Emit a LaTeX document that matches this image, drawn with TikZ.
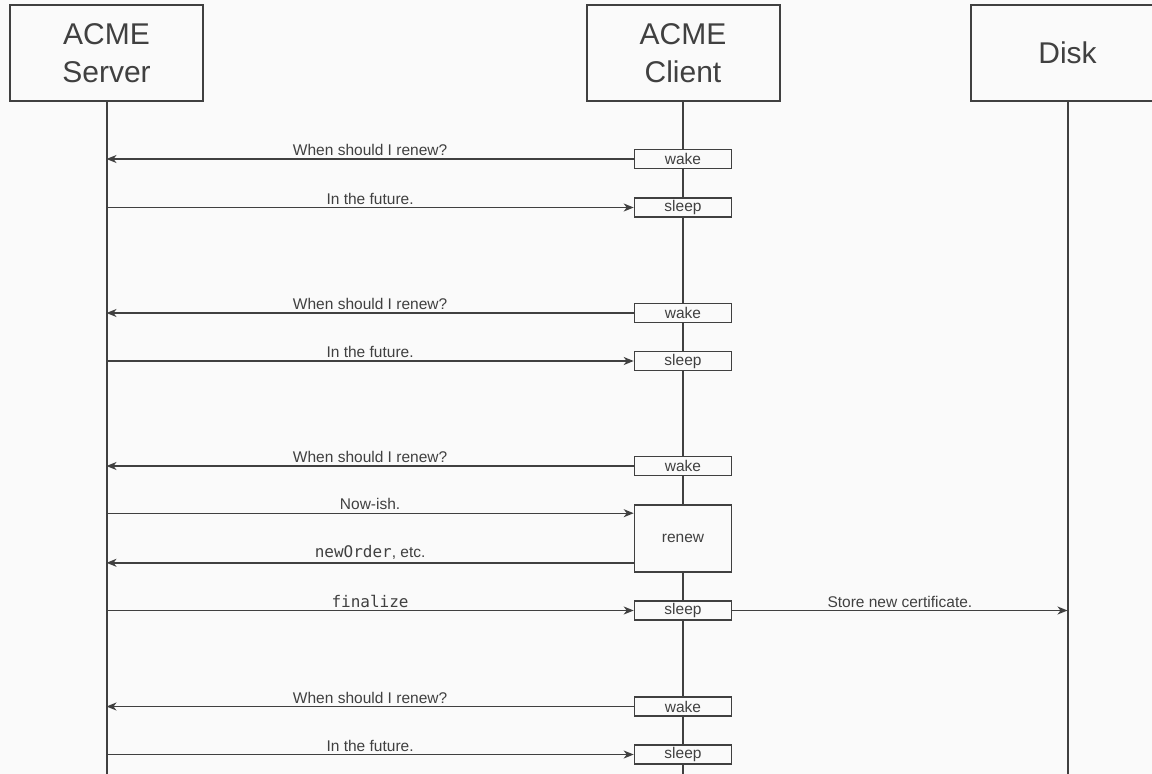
\documentclass[tikz,border=0pt]{standalone}
\usepackage{fontspec}
\setmainfont{Liberation Sans}
\newfontfamily\monofnt{DejaVu Sans Mono}
\usetikzlibrary{arrows.meta,calc}
\definecolor{bgc}{RGB}{250,250,250}
\definecolor{ink}{RGB}{64,64,64}
\newcommand{\mymono}[1]{{\monofnt\fontsize{16}{16}\selectfont #1}}
\tikzset{
  head/.style={draw=ink,line width=2pt,fill=bgc,minimum width=193pt,minimum height=96pt,inner sep=0pt,align=center,font=\fontsize{30}{38}\selectfont,text=ink},
  life/.style={draw=ink,line width=2pt},
  act/.style={draw=ink,line width=1.6pt,fill=bgc,minimum width=97pt,minimum height=19pt,inner sep=0pt,font=\fontsize{15.5}{15.5}\selectfont,text=ink},
  msg/.style={draw=ink,line width=1.4pt,-{Stealth[length=10pt,width=8pt,inset=3pt]}},
  lbl/.style={above,inner sep=2.5pt,font=\fontsize{15.5}{16}\selectfont,text=ink}
}
\begin{document}
\begin{tikzpicture}[x=1pt,y=-1pt]
\fill[bgc] (0,0) rectangle (1152,774);
\useasboundingbox (0,0) rectangle (1152,774);
\clip (0,0) rectangle (1152,774);
% heads
\node[head] (srv) at (106.5,53) {ACME\\Server};
\node[head] (cli) at (683,53) {ACME\\Client};
\node[head] (dsk) at (1067.5,53) {Disk};
\coordinate (srvend) at (106.5,774);
\coordinate (cliend) at (683,774);
\coordinate (dskend) at (1067.5,774);
\draw[life] (srv.south) -- (srvend);
\draw[life] (cli.south) -- (cliend);
\draw[life] (dsk.south) -- (dskend);
% activations
\node[act] (w1) at (683,159) {wake};
\node[act] (s1) at (683,207.5) {sleep};
\node[act] (w2) at (683,313) {wake};
\node[act] (s2) at (683,361) {sleep};
\node[act] (w3) at (683,466) {wake};
\node[act,minimum height=67pt] (rn) at (683,538.5) {renew};
\node[act] (s3) at (683,610.5) {sleep};
\node[act] (w4) at (683,706.5) {wake};
\node[act] (s4) at (683,754.5) {sleep};
% messages
\foreach \w/\s in {w1/s1,w2/s2,w4/s4}{
  \draw[msg] (\w.west) -- node[lbl]{When should I renew?} (\w.west -| srv);
  \draw[msg] (\s.west -| srv) -- node[lbl]{In the future.} (\s.west);
}
\draw[msg] (w3.west) -- node[lbl]{When should I renew?} (w3.west -| srv);
\coordinate (rnin) at ($(rn.north west)+(0,9)$);
\coordinate (rnout) at ($(rn.south west)+(0,-10)$);
\draw[msg] (rnin -| srv) -- node[lbl]{Now-ish.} (rnin);
\draw[msg] (rnout) -- node[lbl]{\mymono{newOrder}, etc.} (rnout -| srv);
\draw[msg] (s3.west -| srv) -- node[lbl]{\mymono{finalize}} (s3.west);
\draw[msg] (s3.east) -- node[lbl]{Store new certificate.} (s3.east -| dsk);
\end{tikzpicture}
\end{document}
